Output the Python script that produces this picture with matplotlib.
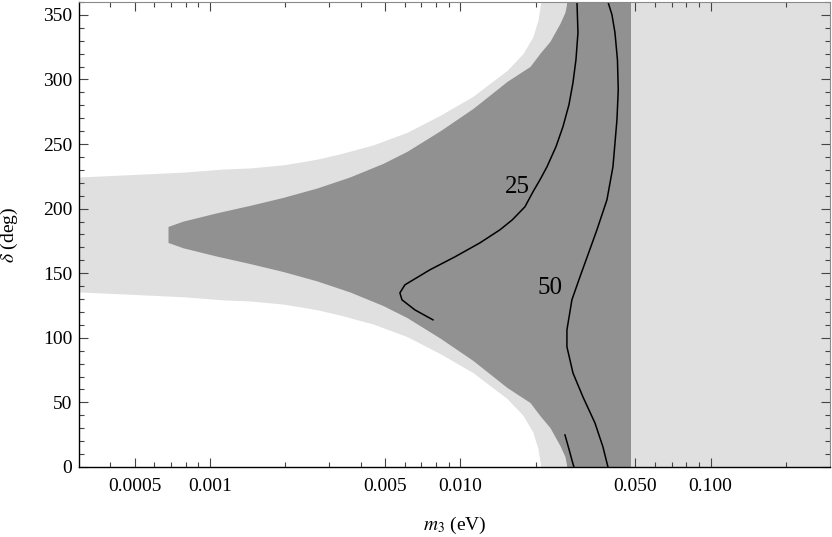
import numpy as np
import matplotlib
matplotlib.use('Agg')
import matplotlib.pyplot as plt
from matplotlib.ticker import FixedLocator, NullFormatter

plt.rcParams['font.family'] = ['Liberation Serif', 'DejaVu Serif']
plt.rcParams['mathtext.fontset'] = 'stix'

# light band: m3 (eV) and half width around delta = 180 deg
light_m3 = [0.0003, 0.000506, 0.000794, 0.00112, 0.00145, 0.00196, 0.00229, 0.00268,
            0.00331, 0.00448, 0.00612, 0.0083, 0.01125, 0.01315, 0.01538, 0.0178,
            0.0195, 0.02044, 0.0210]
light_hw = [44.5, 46.5, 48.3, 50.6, 51.5, 53.9, 56.0, 58.3,
            62.4, 69.3, 79.0, 92.2, 107.0, 117.0, 127.0, 140.0,
            153.0, 166.0, 180.0]
light_full = (0.0210, 0.3)

# dark band
dark_m3 = [0.00068, 0.00078, 0.001066, 0.00145, 0.00196, 0.00268, 0.00362, 0.00491,
           0.00612, 0.0083, 0.01125, 0.01538, 0.0190, 0.0208, 0.02282, 0.02502,
           0.0262, 0.0267]
dark_hw = [6.2, 10.3, 16.8, 22.6, 28.7, 36.0, 44.5, 55.0,
           64.3, 80.2, 97.6, 118.5, 130.1, 140.2, 149.5, 163.4,
           172.0, 180.0]
dark_full = (0.0267, 0.0481)

# contour 25
c25_m3 = [0.00778, 0.00659, 0.00585, 0.00574, 0.00601, 0.00756, 0.00953, 0.01199,
          0.01441, 0.01614, 0.01813, 0.01952, 0.02082, 0.02221, 0.02412, 0.02572,
          0.02718, 0.02820, 0.02899, 0.02953, 0.02926]
c25_d = [113.9, 121.6, 129.4, 134.8, 141.0, 152.6, 162.7, 173.5,
         183.6, 191.3, 201.4, 213.0, 222.3, 232.4, 247.9, 263.4,
         280.4, 297.4, 315.3, 336.2, 360.0]
c25b_m3 = [0.02620, 0.02718, 0.02793, 0.02845]
c25b_d = [24.8, 13.9, 5.4, 0.0]

# contour 50
c50_m3 = [0.03891, 0.04037, 0.04150, 0.04246, 0.04278, 0.04227, 0.04074, 0.03855,
          0.03516, 0.03236, 0.03008, 0.02793, 0.02668, 0.02668, 0.02820, 0.03092,
          0.03452, 0.03716, 0.03891]
c50_d = [360.0, 350.1, 336.2, 315.3, 292.0, 268.8, 232.4, 206.8,
         183.6, 164.2, 147.2, 129.4, 106.1, 93.0, 72.8, 54.2,
         34.1, 15.5, 0.0]

labels = [('25', 0.01684, 216.9), ('50', 0.02282, 138.7)]

xmajor = [0.0005, 0.001, 0.005, 0.010, 0.050, 0.100]
xmajor_lab = ['0.0005', '0.001', '0.005', '0.010', '0.050', '0.100']
xminor = [0.0004, 0.0006, 0.0007, 0.0008, 0.0009, 0.002, 0.003, 0.004, 0.006, 0.007,
          0.008, 0.009, 0.02, 0.03, 0.04, 0.06, 0.07, 0.08, 0.09, 0.2]

light_c = '#e0e0e0'
dark_c = '#919191'

fig = plt.figure(figsize=(8.32, 5.37), dpi=100)
ax = fig.add_axes([0.095, 0.1304, 0.9026, 0.866])

lh = np.array(light_hw)
ax.fill_between(light_m3, 180 - lh, 180 + lh, color=light_c, lw=0, zorder=1)
ax.axvspan(light_full[0], light_full[1], color=light_c, lw=0, zorder=1)
dh = np.array(dark_hw)
ax.fill_between(dark_m3, 180 - dh, 180 + dh, color=dark_c, lw=0, zorder=2)
ax.axvspan(dark_full[0], dark_full[1], color=dark_c, lw=0, zorder=2)

ax.plot(c25_m3, c25_d, color='black', lw=1.1, zorder=3)
ax.plot(c25b_m3, c25b_d, color='black', lw=1.1, zorder=3)
ax.plot(c50_m3, c50_d, color='black', lw=1.1, zorder=3)
for txt, xx, yy in labels:
    ax.text(xx, yy, txt, fontsize=18, ha='center', va='center', zorder=4)

ax.set_xscale('log')
ax.set_xlim(0.0003, 0.3)
ax.set_ylim(0, 360)
ax.xaxis.set_major_locator(FixedLocator(xmajor))
ax.set_xticklabels(xmajor_lab)
ax.xaxis.set_minor_locator(FixedLocator(xminor))
ax.xaxis.set_minor_formatter(NullFormatter())
ax.set_yticks(np.arange(0, 351, 50))
ax.set_yticks(np.arange(0, 361, 10), minor=True)

ax.tick_params(which='both', direction='in', top=True, right=True, labelsize=14,
               color='#444444', width=0.8)
ax.tick_params(which='major', length=6.5)
ax.tick_params(which='minor', length=3.5)
ax.tick_params(axis='x', which='both', pad=8)
ax.tick_params(axis='y', which='both', pad=5)

for s in ['left', 'bottom']:
    ax.spines[s].set_color('black')
    ax.spines[s].set_linewidth(1.0)
for s in ['top', 'right']:
    ax.spines[s].set_color('#8a8a8a')
    ax.spines[s].set_linewidth(0.8)
for s in ax.spines.values():
    s.set_zorder(5)

ax.set_xlabel(r'$m_3$ (eV)', fontsize=14, labelpad=14)
ax.set_ylabel(r'$\delta$ (deg)', fontsize=14, labelpad=16)

fig.savefig('out.png', dpi=100)
